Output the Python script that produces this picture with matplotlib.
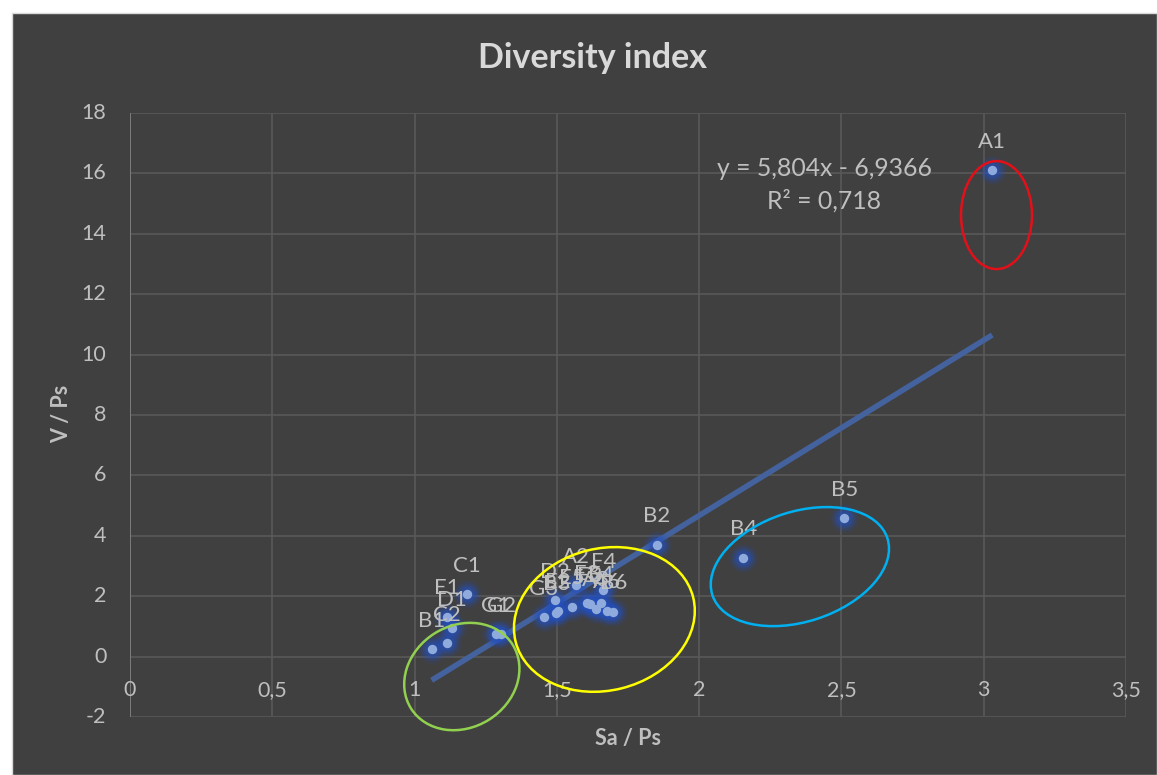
import matplotlib
matplotlib.use("Agg")
import matplotlib.pyplot as plt
import matplotlib.transforms as mtransforms
from matplotlib.patches import Ellipse, Rectangle
import numpy as np

# ---- data ----
names = ["A1", "B5", "B4", "B2", "C1", "E1", "D1", "C2", "B1", "G1", "G2",
         "G3", "D2", "B3", "E2", "E5", "A2", "E3", "F3", "A3", "E4", "F4", "A6", "B6"]
sa_ps = [3.03, 2.51, 2.155, 1.852, 1.183, 1.113, 1.133, 1.113, 1.06, 1.285, 1.305,
         1.455, 1.493, 1.498, 1.505, 1.554, 1.567, 1.605, 1.616, 1.637, 1.655, 1.663, 1.676, 1.698]
v_ps = [16.1, 4.59, 3.27, 3.70, 2.07, 1.32, 0.94, 0.44, 0.25, 0.74, 0.74,
        1.30, 1.87, 1.45, 1.52, 1.65, 2.37, 1.78, 1.73, 1.58, 1.76, 2.20, 1.52, 1.49]
slope = 5.804
intercept = -6.9366
r2 = 0.718
x_ticks = [0, 0.5, 1, 1.5, 2, 2.5, 3, 3.5]
x_tick_labels = ["0", "0,5", "1", "1,5", "2", "2,5", "3", "3,5"]
y_ticks = [-2, 0, 2, 4, 6, 8, 10, 12, 14, 16, 18]

# highlight ellipses: (center x, center y) in data, size in pixels, angle, colour
ell_centers = [(3.045, 14.62), (1.166, -0.66), (1.667, 1.23), (2.354, 2.98)]
ell_sizes_px = [(71, 108), (120, 102), (183, 142), (184, 110)]
ell_angles = [0, 32, 14, 18]
ell_colors = ["#E3101A", "#92D050", "#FFFF00", "#00B0F0"]

FONT = ["Lato", "DejaVu Sans"]
plt.rcParams["font.family"] = FONT

W, H = 1157, 775
fig = plt.figure(figsize=(W / 100, H / 100), dpi=100, facecolor="white")
# dark chart area
bg = Rectangle((12 / W, 0), 1 - 12 / W, 1 - 13 / H, transform=fig.transFigure,
               facecolor="#404040", edgecolor="#D9D9D9", linewidth=1, zorder=-10)
fig.patches.append(bg)

ax = fig.add_axes([130 / W, (H - 717) / H, 996 / W, 604 / H])
ax.set_zorder(5)
ax.set_facecolor("none")
ax.set_xlim(0, 3.5)
ax.set_ylim(-2, 18)
for s in ax.spines.values():
    s.set_visible(False)
ax.set_xticks([])
ax.set_yticks([])

grid_c = "#595959"
for xv in x_ticks:
    ax.axvline(xv, color=grid_c, lw=1.2, zorder=1)
for yv in y_ticks:
    ax.axhline(yv, color=grid_c, lw=1.2, zorder=1)
ax.axvline(0, color="#7F7F7F", lw=1.3, zorder=1.5)

txt_c = "#BFBFBF"
for xv, lab in zip(x_ticks, x_tick_labels):
    ax.text(xv, -1.12, lab, ha="center", va="center", color=txt_c, fontsize=15.5)
for yv in y_ticks:
    ax.annotate(str(yv), xy=(0, yv), xycoords=("axes fraction", "data"),
                xytext=(-17, 0), textcoords="offset points",
                ha="right", va="center", color=txt_c, fontsize=15.5)

# trend line
xl = np.array([min(sa_ps), max(sa_ps)])
ax.plot(xl, slope * xl + intercept, color="#44629E", lw=4.0, solid_capstyle="butt", zorder=3)

# points with glow
for s_, a_ in [(420, 0.10), (300, 0.16), (200, 0.26), (120, 0.40)]:
    ax.scatter(sa_ps, v_ps, s=s_, color="#2450C0", alpha=a_, linewidths=0, zorder=4)
ax.scatter(sa_ps, v_ps, s=46, color="#8FAADC", linewidths=0, zorder=5)

for n, xv, yv in zip(names, sa_ps, v_ps):
    ax.annotate(n, (xv, yv), xytext=(0, 20.5), textcoords="offset points",
                ha="center", va="center", color=txt_c, fontsize=16, zorder=6)

# ellipses (pixel-sized, centred on data positions)
for (cx, cy), (w, h), ang, col in zip(ell_centers, ell_sizes_px, ell_angles, ell_colors):
    tr = fig.dpi_scale_trans + mtransforms.ScaledTranslation(cx, cy, ax.transData)
    ax.add_patch(Ellipse((0, 0), w / 100, h / 100, angle=ang, transform=tr,
                         fill=False, edgecolor=col, lw=1.8, zorder=7, clip_on=False))

# trendline equation
eq = "y = {}x - {}".format(str(slope).replace(".", ","), str(-intercept).replace(".", ","))
ax.text(2.44, 16.17, eq, ha="center", va="center", color=txt_c, fontsize=17.8)
ax.text(2.44, 15.1, "R² = " + str(r2).replace(".", ","), ha="center", va="center",
        color=txt_c, fontsize=17.8)

fig.text(592 / W, 1 - 58 / H, "Diversity index", ha="center", va="center",
         color="#D9D9D9", fontsize=24.5, fontweight="bold")
fig.text(628 / W, 1 - 738 / H, "Sa / Ps", ha="center", va="center",
         color=txt_c, fontsize=15.5, fontweight="bold")
fig.text(62 / W, 1 - 414 / H, "V / Ps", ha="center", va="center", rotation=90,
         color=txt_c, fontsize=15.5, fontweight="bold")

fig.savefig("out.png", dpi=100, facecolor="white")
